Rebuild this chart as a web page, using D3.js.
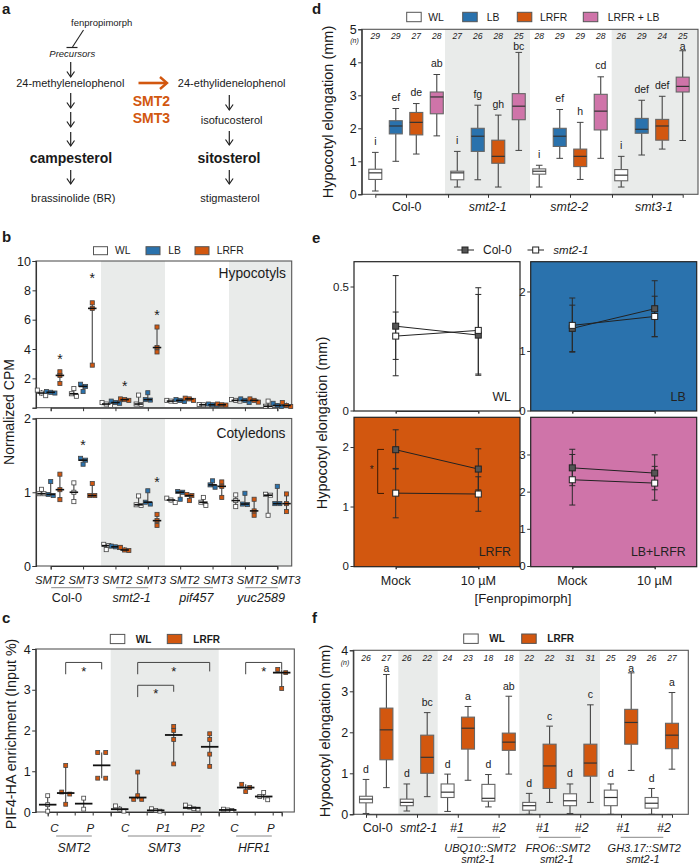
<!DOCTYPE html>
<html><head><meta charset="utf-8">
<script src="https://cdn.jsdelivr.net/npm/d3@7"></script>
<style>
html,body{margin:0;padding:0;background:#fff}
svg{display:block;font-family:"Liberation Sans",Arial,sans-serif}
text{fill:#1a1a1a}
</style></head><body><div id="chart"></div>
<script>
// ---------- DATA ----------
const condColors = {WL:"#ffffff", LB:"#2a72ad", LRFR:"#d2570f", "LRFR + LB":"#cf74a9"};

// panel b  (each group: WL, LB, LRFR replicates)
const bGroups = ["Col-0","smt2-1","pif457","yuc2589"];
const bGenes = ["SMT2","SMT3","SMT2","SMT3","SMT2","SMT3","SMT2","SMT3"];
const bConds = ["WL","LB","LRFR"];
const bHypocotyls = [
  [[1.2,1.0,0.82],[1.0,1.05,1.1],[2.45,2.2,1.65]],
  [[1.3,0.95,0.78],[1.6,1.45,1.1],[7.15,6.77,2.9]],
  [[0.35,0.25,0.15],[0.45,0.35,0.3],[0.6,0.55,0.5]],
  [[0.86,0.25,0.22],[1.02,0.55,0.52],[5.5,4.1,3.8]],
  [[0.5,0.45,0.42],[0.55,0.5,0.42],[0.65,0.6,0.5]],
  [[0.22,0.2,0.15],[0.25,0.2,0.15],[0.25,0.2,0.18]],
  [[0.55,0.5,0.45],[0.6,0.5,0.35],[0.6,0.5,0.38]],
  [[0.45,0.1,0.1],[0.3,0.15,0.08],[0.35,0.15,0.08]]
];
const bCotyledons = [
  [[1.04,0.98,0.98],[1.145,0.97,0.955],[1.245,1.035,0.9]],
  [[1.127,1.0,0.873],[1.46,1.435,1.38],[1.118,0.955,0.955]],
  [[0.294,0.276,0.222],[0.27,0.26,0.25],[0.253,0.217,0.21]],
  [[0.95,0.83,0.82],[1.02,0.865,0.84],[0.7,0.615,0.55]],
  [[0.92,0.895,0.86],[1.01,1.0,0.905],[0.97,0.955,0.887]],
  [[0.93,0.865,0.82],[1.155,1.1,1.068],[1.14,1.08,0.93]],
  [[0.964,0.887,0.805],[0.986,0.84,0.833],[0.905,0.747,0.688]],
  [[0.973,0.96,0.688],[1.08,0.846,0.846],[0.977,0.846,0.738]]
];
const bHypoStars = [[0,2,3.5],[1,2,9],[2,2,1.65],[3,2,6.45]];
const bCotyStars = [[1,1,1.68],[3,2,1.17]];

// panel c
const cConds = ["WL","LRFR"];
const cValues = [
  [0.4,0.18,0.02],[1.14,0.49,0.44,0.19],[0.34,0.07],[1.46,1.46,0.83,0.83],
  [0.15,0.07,0.02],[0.98,0.4,0.31,0.31],[0.08,0.04,0.02],[2.1,2.0,1.78,1.18],
  [0.17,0.12,0.08,0.07],[1.92,1.78,1.42,1.12],[0.07,0.05,0.04],[0.68,0.6,0.5],
  [0.48,0.38,0.3],[3.5,3.42,3.03]
];
const cBrackets = [[1,3,3.67,3.38,3.5,3.5],[5,9,3.67,3.38,3.45,3.5],[5,7,3.11,2.82,2.95,2.97],[11,13,3.67,3.38,3.5,3.5]];
const cPromoters = ["C","P","C","P1","P2","C","P"];
const cGenes = ["SMT2","SMT3","HFR1"];

// panel d  [low whisker, q1, median, q3, high whisker]
const dCondNames = ["WL","LB","LRFR","LRFR + LB"];
const dGroups = ["Col-0","smt2-1","smt2-2","smt3-1"];
const dBoxes = [
  [0.1,0.45,0.65,0.76,1.27],[1.0,1.83,2.07,2.23,2.6],[1.22,1.8,2.18,2.48,2.75],[1.77,2.44,2.95,3.1,3.63],
  [0.22,0.44,0.65,0.7,1.3],[0.44,1.3,1.76,2.0,2.7],[0.22,0.94,1.15,1.64,2.4],[1.33,2.26,2.67,3.05,4.3],
  [0.22,0.61,0.7,0.77,0.88],[1.09,1.45,1.76,2.0,2.57],[0.45,0.84,1.15,1.37,2.18],[1.09,1.95,2.52,3.03,3.56],
  [0.22,0.41,0.58,0.75,1.15],[1.19,1.85,1.97,2.3,2.85],[1.37,1.64,2.07,2.27,2.97],[1.63,3.1,3.27,3.55,4.35]
];
const dLetters = ["i","ef","de","ab","i","fg","gh","bc","i","ef","h","cd","i","def","def","a"];
const dN = [29,29,27,28,27,26,28,25,28,29,29,28,26,29,24,25];

// panel e  [mean, low, high]
const eDoses = ["Mock","10 µM"];
const eSeries = ["Col-0","smt2-1"];
const ePanelNames = ["WL","LB","LRFR","LB+LRFR"];
const eWL = {col:[[0.34,0.14,0.544],[0.304,0.142,0.468]], smt:[[0.30,0.206,0.397],[0.323,0.147,0.495]]};
const eLB = {col:[[1.38,0.99,1.77],[1.71,1.24,2.18]], smt:[[1.43,0.98,1.89],[1.58,1.24,1.92]]};
const eLRFR = {col:[[1.955,1.63,2.29],[1.63,1.28,1.97]], smt:[[1.225,0.81,1.64],[1.21,0.92,1.5]]};
const eLBLRFR = {col:[[2.64,2.16,3.14],[2.5,2.05,2.99]], smt:[[2.32,1.64,3.0],[2.23,1.77,2.68]]};

// panel f
const fConds = ["WL","LRFR"];
const fBoxes = [
  [0.02,0.28,0.37,0.44,0.85],[0.65,1.33,2.06,2.59,3.41],[0.08,0.21,0.29,0.37,0.74],[0.43,1.0,1.39,1.93,2.48],
  [0.07,0.41,0.54,0.74,0.98],[0.83,1.59,2.1,2.37,2.63],[0.18,0.32,0.39,0.73,0.97],[0.98,1.56,1.76,1.98,2.88],
  [0,0.1,0.21,0.29,0.51],[0.29,0.63,1.18,1.71,2.15],[0.02,0.21,0.33,0.5,0.74],[0.29,0.93,1.25,1.71,2.67],
  [0,0.21,0.41,0.59,0.74],[1.07,1.71,2.24,2.56,3.45],[0,0.15,0.27,0.41,0.63],[1.1,1.6,1.93,2.22,2.97]
];
const fLetters = ["d","a","d","bc","d","a","d","ab","d","c","d","c","d","a","d","a"];
const fN = [26,27,26,22,24,23,18,18,22,22,31,31,25,29,26,27];
const fLines = ["UBQ10::SMT2","FRO6::SMT2","GH3.17::SMT2"];

// ---------- HELPERS ----------
const svg = d3.select("#chart").append("svg").attr("width",699).attr("height",865);
const GRAY = "#e9ebea";
function txt(g,x,y,s,o={}){
  const t=g.append("text").attr("x",x).attr("y",y).text(s)
    .attr("font-size",o.size||12.5).attr("text-anchor",o.anchor||"middle");
  if(o.italic)t.attr("font-style","italic");
  if(o.bold)t.attr("font-weight","bold");
  if(o.fill)t.style("fill",o.fill);
  if(o.rotate)t.attr("transform",`rotate(-90 ${x} ${y})`);
  return t;
}
function line(g,x1,y1,x2,y2,stroke="#333",w=1){
  return g.append("line").attr("x1",x1).attr("y1",y1).attr("x2",x2).attr("y2",y2).attr("stroke",stroke).attr("stroke-width",w);
}
function band(g,x0,x1,y0,y1){ g.append("rect").attr("x",x0).attr("y",y0).attr("width",x1-x0).attr("height",y1-y0).attr("fill",GRAY); }
function frame(g,x0,x1,y0,y1,c="#555",w=1.1){ g.append("rect").attr("x",x0).attr("y",y0).attr("width",x1-x0).attr("height",y1-y0).attr("fill","none").attr("stroke",c).attr("stroke-width",w); }
function yAxis(g,x,scale,ticks,fmt,size=12.5){
  const a=g.append("g").attr("transform",`translate(${x},0)`)
    .call(d3.axisLeft(scale).tickValues(ticks).tickFormat(fmt||d3.format("d")).tickSize(3.5).tickPadding(1.5));
  a.selectAll("text").attr("font-size",size).attr("font-family","inherit");
  a.selectAll("line,path").attr("stroke","#333");
  a.select("path").attr("stroke-width",1.1);
  return a;
}
function xTicks(g,y,scale,ticks,len=3.5){
  const a=g.append("g").attr("transform",`translate(0,${y})`)
    .call(d3.axisBottom(scale).tickValues(ticks).tickFormat("").tickSize(len));
  a.selectAll("line,path").attr("stroke","#333");
  return a;
}
function legendBoxes(g,items,y,w,h,o={}){
  items.forEach(it=>{
    g.append("rect").attr("x",it.bx).attr("y",y-h/2).attr("width",w).attr("height",h)
      .attr("fill",condColors[it.name]).attr("stroke","#555").attr("stroke-width",1);
    txt(g,it.tx,y+3.7,it.name,{anchor:"start",size:o.size||10.5,bold:o.bold});
  });
}
function star(g,x,y,size=14){ txt(g,x,y+size*0.53,"*",{size}); }
function boxes(g,data,conds,xs,y,w,letters,ns,nY,letterCap,letterGap){
  data.forEach((d,i)=>{
    const x=xs(i),c=conds[i%conds.length];
    line(g,x,y(d[0]),x,y(d[1]),"#444",1.1);
    line(g,x,y(d[3]),x,y(d[4]),"#444",1.1);
    line(g,x-3.3,y(d[0]),x+3.3,y(d[0]),"#444",1);
    line(g,x-3.3,y(d[4]),x+3.3,y(d[4]),"#444",1);
    g.append("rect").attr("x",x-w/2).attr("y",y(d[3])).attr("width",w).attr("height",y(d[1])-y(d[3]))
      .attr("fill",condColors[c]).attr("stroke","#666").attr("stroke-width",1.1);
    line(g,x-w/2,y(d[2]),x+w/2,y(d[2]),"#333",1.2);
    txt(g,x,Math.max(y(d[4])-letterGap,letterCap),letters[i],{size:10.5});
    txt(g,x,nY,ns[i],{size:8.6,italic:true});
  });
}
// spread replicates that would overlap sideways, keeping them as a row
function spread(vals,y,pairGap,gap){
  const pts=vals.map(v=>({v,py:y(v)})).sort((a,b)=>a.py-b.py);
  let cl=[],out=[];
  const flush=()=>{
    const n=cl.length, g=n===2?pairGap:gap;
    cl.forEach((p,k)=>out.push({v:p.v,dx:(k-(n-1)/2)*g}));
    cl=[];
  };
  pts.forEach(p=>{ if(cl.length&&p.py-cl[cl.length-1].py>=3.6)flush(); cl.push(p); });
  flush();
  return out;
}
function swarm(g,x,y,vals,cond,barW,barH,pairGap,gap,ms){
  const [lo,hi]=d3.extent(vals);
  line(g,x,y(lo),x,y(hi),"#444",1.1);
  const m=d3.median(vals);
  spread(vals,y,pairGap,gap).forEach(p=>{
    g.append("rect").attr("x",x+p.dx-ms/2).attr("y",y(p.v)-ms/2).attr("width",ms).attr("height",ms)
      .attr("fill",condColors[cond]).attr("stroke","#444").attr("stroke-width",.8);
  });
  g.append("rect").attr("x",x-barW/2).attr("y",y(m)-barH/2).attr("width",barW).attr("height",barH).attr("fill","#111");
}

// panel letters
[["a",2,13.6],["b",2,242],["c",2,623],["d",312,13.6],["e",312,243],["f",312,623]].forEach(l=>txt(svg,l[1],l[2],l[0],{size:15,bold:true,anchor:"start"}));

// ---------- PANEL A ----------
(function(){
  const g=svg.append("g"), F=11;
  txt(g,101.7,26,"fenpropimorph",{size:9.5});
  line(g,83.5,30,72.5,47,"#222",1.1); line(g,66.5,47.5,77.5,47.5,"#222",1.2);
  txt(g,72.3,57,"Precursors",{size:9.5,italic:true});
  txt(g,70.3,87,"24-methylenelophenol",{size:F});
  txt(g,231.7,87,"24-ethylidenelophenol",{size:F});
  txt(g,231.7,123.5,"isofucosterol",{size:F});
  txt(g,71,162.5,"campesterol",{size:14,bold:true});
  txt(g,229,162.5,"sitosterol",{size:14,bold:true});
  txt(g,73.3,202,"brassinolide (BR)",{size:F});
  txt(g,230,202,"stigmasterol",{size:F});
  txt(g,151.3,106,"SMT2",{size:14,bold:true,fill:"#d2570f"});
  txt(g,151.3,123.3,"SMT3",{size:14,bold:true,fill:"#d2570f"});
  const arrow=(x,y0,y1)=>{ line(g,x,y0,x,y1,"#222",1.2);
    g.append("path").attr("d",`M${x-3.8},${y1-5.5}L${x},${y1}L${x+3.8},${y1-5.5}`).attr("fill","none").attr("stroke","#222").attr("stroke-width",1.2); };
  [[62,77],[93,108],[112,127],[132,146],[170,184]].forEach(a=>arrow(70.7,a[0],a[1]));
  [[95,110],[131,145],[170,184]].forEach(a=>arrow(229.3,a[0],a[1]));
  line(g,138.5,83,166,83,"#d2570f",2.6);
  g.append("path").attr("d","M160,77L167,83L160,89").attr("fill","none").attr("stroke","#d2570f").attr("stroke-width",2.4);
})();

// ---------- PANEL B ----------
(function(){
  const g=svg.append("g");
  const L=36,R=291.7;
  const xg=d3.scaleLinear().domain([0,7]).range([50.7,277.3]);
  const off=d3.scaleOrdinal().domain([0,1,2]).range([-9.2,0,9.2]);
  legendBoxes(g,[{name:"WL",bx:93.5,tx:115},{name:"LB",bx:146,tx:168.3},{name:"LRFR",bx:195,tx:216.7}],250.7,14,8,{size:10.3});
  const yT=d3.scaleLinear().domain([0,10]).range([407.7,261]);
  const yB=d3.scaleLinear().domain([0,2]).range([566,418.5]);
  band(g,101,165,261,407.7); band(g,229,R,261,407.7);
  band(g,101,165,418.5,566); band(g,231,R,418.5,566);
  [[yT,bHypocotyls,bHypoStars,[0,2,4,6,8,10],407.7,261],[yB,bCotyledons,bCotyStars,[0,1,2],566,418.5]].forEach(([y,data,stars,tk,b,t],pi)=>{
    frame(g,L,R,t,b);
    yAxis(g,L,y,tk,v=>(pi===0&&v===0)?"":v);
    xTicks(g,b,xg,d3.range(8));
    data.forEach((grp,i)=>grp.forEach((vals,k)=>swarm(g,xg(i)+off(k),y,vals,bConds[k],8.5,1.6,5,4.2,4.1)));
    stars.forEach(s=>star(g,xg(s[0])+off(s[1]),y(s[2])));
  });
  txt(g,286,278.3,"Hypocotyls",{size:13.8,anchor:"end"});
  txt(g,285.5,438.3,"Cotyledons",{size:13.8,anchor:"end"});
  txt(g,14,412,"Normalized CPM",{size:14,rotate:true});
  const xl=d3.scaleLinear().domain([0,7]).range([50,285.5]);
  bGenes.forEach((s,i)=>txt(g,xl(i),584,s,{size:11.3,italic:true}));
  bGroups.forEach((s,i)=>{
    line(g,xg(i*2)+.5,587.7,xg(i*2+1)+.5,587.7,"#888",1);
    txt(g,(xg(i*2)+xg(i*2+1))/2,602.3,s,{size:12.6,italic:i>0});
  });
})();

// ---------- PANEL C ----------
(function(){
  const g=svg.append("g");
  const L=35.7,R=294.3,T=649,B=812;
  const x=d3.scaleLinear().domain([0,13]).range([47.7,281.7]);
  const y=d3.scaleLinear().domain([0,4]).range([B,T]);
  band(g,110.7,218.7,T,B);
  frame(g,L,R,T,B);
  yAxis(g,L,y,[0,1,2,3,4]);
  xTicks(g,B,x,[0,1,2,3,4,5,6,7,8,9,10,11,12,13].map(i=>i+.5).filter(v=>v<13));
  xTicks(g,B,x,[3.5,9.5],4.5);
  legendBoxes(g,[{name:"WL",bx:110.3,tx:135.7},{name:"LRFR",bx:167.3,tx:193.3}],639,14.5,9.2,{size:10,bold:true});
  cValues.forEach((v,i)=>swarm(g,x(i),y,v,cConds[i%2],17.5,1.8,8,4.2,3.9));
  cBrackets.forEach(b=>{
    g.append("path").attr("d",`M${x(b[0])},${y(b[3])}V${y(b[2])}H${x(b[1])}V${y(b[4])}`).attr("fill","none").attr("stroke","#444").attr("stroke-width",1);
    star(g,(x(b[0])+x(b[1]))/2,y(b[5]),13);
  });
  const pos=[0.37,2.37,4.3,6.42,8.33,10.37,12.4];
  cPromoters.forEach((s,i)=>txt(g,x(pos[i]),831.7,s,{size:11.5,italic:true}));
  [[0.47,2.45,0],[4.45,8.5,1],[10.47,12.45,2]].forEach(a=>{
    line(g,x(a[0]),836,x(a[1]),836,"#888",1);
    txt(g,(x(a[0])+x(a[1]))/2,851.7,cGenes[a[2]],{size:12.3,italic:true});
  });
  txt(g,16,734,"PIF4-HA enrichment (Input %)",{size:14.3,rotate:true});
})();

// ---------- PANEL D ----------
(function(){
  const g=svg.append("g");
  const L=361.7,R=698,T=29.3,B=194.3;
  const x=d3.scaleLinear().domain([0,15]).range([375.3,682.7]);
  const y=d3.scaleLinear().domain([0,5]).range([B,T]);
  band(g,445,530,T,B); band(g,611.7,R,T,B);
  frame(g,L,R,T,B);
  yAxis(g,L,y,[0,1,2,3,4,5]);
  xTicks(g,B,x,[1.5,3.55,5.5,7.55,9.5,11.55,13.5],3.5);
  legendBoxes(g,[{name:"WL",bx:406.7,tx:428.3},{name:"LB",bx:462.7,tx:486.7},{name:"LRFR",bx:517.3,tx:540},{name:"LRFR + LB",bx:583.3,tx:607.7}],17,14.5,9.4,{size:10.4});
  txt(g,354.5,43,"(n)",{size:7,italic:true});
  boxes(g,dBoxes,dCondNames,x,y,13,dLetters,dN,38.5,50,7.6);
  dGroups.forEach((s,i)=>txt(g,[406.7,487.7,569.3,654][i],210.7,s,{size:12.4,italic:i>0}));
  txt(g,333,112,"Hypocotyl elongation (mm)",{size:14.5,rotate:true});
})();

// ---------- PANEL E ----------
(function(){
  const g=svg.append("g");
  const panels=[
    {name:ePanelNames[0],d:eWL,x0:354,x1:520,t:261.7,b:411,top:0.6,y0:410.5,fill:"#fff",tk:[0,0.5],xs:[395.7,478.3]},
    {name:ePanelNames[1],d:eLB,x0:530.7,x1:696.7,t:261.7,b:411,top:2.5,y0:410.5,fill:condColors.LB,tk:[0,1,2],xs:[572.3,654.7]},
    {name:ePanelNames[2],d:eLRFR,x0:354,x1:520,t:417.3,b:566.7,top:2.5,y0:566,fill:condColors.LRFR,tk:[0,1,2],xs:[395.7,478.3]},
    {name:ePanelNames[3],d:eLBLRFR,x0:530.7,x1:696.7,t:417.3,b:566.7,top:4,y0:566,fill:condColors["LRFR + LB"],tk:[0,1,2,3],xs:[572.3,654.7]}
  ];
  panels.forEach((p,pi)=>{
    const y=d3.scaleLinear().domain([0,p.top]).range([p.y0,p.t]);
    const x=d3.scalePoint().domain(eDoses).range(p.xs);
    g.append("rect").attr("x",p.x0).attr("y",p.t).attr("width",p.x1-p.x0).attr("height",p.b-p.t).attr("fill",p.fill);
    frame(g,p.x0,p.x1,p.t,p.b,"#222",1.2);
    const a=yAxis(g,p.x0,y,p.tk,v=>v,11.5); a.select("path").remove();
    xTicks(g,p.b,x,eDoses,2.5);
    const sg=g.append("g");
    [["col","#555"],["smt","#fff"]].forEach(([k,fill])=>{
      const pts=p.d[k];
      sg.append("path").attr("d",d3.line().x((d,i)=>x(eDoses[i])).y(d=>y(d[0]))(pts)).attr("fill","none").attr("stroke","#222").attr("stroke-width",1);
      pts.forEach((d,i)=>{
        const cx=x(eDoses[i]);
        line(sg,cx,y(d[1]),cx,y(d[2]),"#2a2a2a",1);
        line(sg,cx-3,y(d[1]),cx+3,y(d[1]),"#2a2a2a",1);
        line(sg,cx-3,y(d[2]),cx+3,y(d[2]),"#2a2a2a",1);
      });
    });
    [["col","#555"],["smt","#fff"]].forEach(([k,fill])=>{
      p.d[k].forEach((d,i)=>{
        sg.append("rect").attr("x",x(eDoses[i])-3).attr("y",y(d[0])-3).attr("width",6).attr("height",6).attr("fill",fill).attr("stroke","#222").attr("stroke-width",1);
      });
    });
    txt(g,p.x1-(pi%2?11:9),p.b-(pi<2?10:10.5),p.name,{size:12.4,anchor:"end",fill:"#222"});
    if(pi>=2) eDoses.forEach((s,i)=>txt(g,p.xs[i],585,s,{size:12.6}));
    if(pi===2){
      g.append("path").attr("d",`M384,${y(1.96)}H377.7V${y(1.22)}H384`).attr("fill","none").attr("stroke","#3a1a05").attr("stroke-width",1);
      star(g,371.7,468,10);
    }
  });
  txt(g,523,603,"[Fenpropimorph]",{size:13.2});
  txt(g,327,423,"Hypocotyl elongation (mm)",{size:14.5,rotate:true});
  // legend
  line(g,457.3,250,474,250,"#222",1);
  g.append("rect").attr("x",462).attr("y",247).attr("width",6).attr("height",6).attr("fill","#555").attr("stroke","#222");
  txt(g,483,254.2,eSeries[0],{size:12,anchor:"start"});
  line(g,527.5,250,544,250,"#222",1);
  g.append("rect").attr("x",532.7).attr("y",247).attr("width",6).attr("height",6).attr("fill","#fff").attr("stroke","#222");
  txt(g,553.3,254.2,eSeries[1],{size:11.5,anchor:"start",italic:true});
})();

// ---------- PANEL F ----------
(function(){
  const g=svg.append("g");
  const L=353.3,R=688.3,T=650.3,B=814.3;
  const x=d3.scaleLinear().domain([0,15]).range([366,672]);
  const y=d3.scaleLinear().domain([0,4]).range([B,T]);
  band(g,398.3,437.7,T,B); band(g,519.3,600,T,B);
  frame(g,L,R,T,B);
  yAxis(g,L,y,[0,1,2,3,4]);
  xTicks(g,B,x,[0.5,2.5,4.5,6.5,8.5,10.5,12.5,14.5]);
  legendBoxes(g,[{name:"WL",bx:463.7,tx:489.3},{name:"LRFR",bx:521.7,tx:547.3}],638.7,14.5,9.4,{size:10,bold:true});
  txt(g,345,664.5,"(n)",{size:7,italic:true});
  boxes(g,fBoxes,fConds,x,y,13,fLetters,fN,660.5,672,6.5);
  txt(g,377.7,831.7,"Col-0",{size:12.5});
  txt(g,418.7,831.7,"smt2-1",{size:12.2,italic:true});
  [[457,"#1"],[499,"#2"],[542.7,"#1"],[581.7,"#2"],[623.3,"#1"],[664,"#2"]].forEach(a=>txt(g,a[0],831.7,a[1],{size:12.5,italic:true}));
  [[457.3,500,480,478],[538.7,580.7,558,556.7],[620.7,663.3,644.3,642.7]].forEach((a,i)=>{
    line(g,a[0],837.3,a[1],837.3,"#888",1);
    txt(g,a[2],852.3,fLines[i],{size:11,italic:true});
    txt(g,a[3],863,"smt2-1",{size:11,italic:true});
  });
  txt(g,330,731,"Hypocotyl elongation (mm)",{size:14.5,rotate:true});
})();
</script></body></html>
